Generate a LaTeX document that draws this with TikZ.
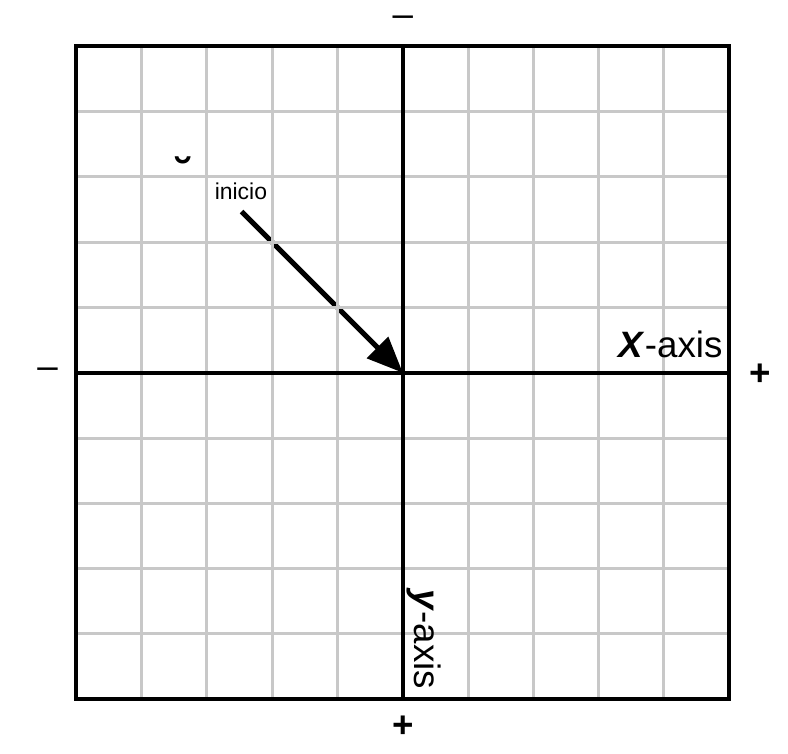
\documentclass[tikz,border=0pt]{standalone}
\usepackage{fontspec}
\setmainfont{Liberation Sans}
\usepackage{tikz}
\usepackage{xcolor}
\usetikzlibrary{arrows.meta, positioning}

\definecolor{gridgray}{RGB}{200,200,200}

\begin{document}
\begin{tikzpicture}[font=\fontsize{16}{16}\selectfont]

\useasboundingbox (-6.17,-5.83) rectangle (5.90,5.71);

% arrow from start point to origin
\coordinate (origin) at (0,0);
\coordinate (start) at (-2.47,2.47);
\draw[line width=2.2pt, -{Triangle[length=0.55cm, width=0.45cm]}] (start) -- (origin);

% grid
\draw[gridgray, line width=1.3pt] (-5,-5) grid (5,5);

% axes and border
\draw[line width=1.7pt] (-5,0) -- (5,0);
\draw[line width=1.7pt] (0,-5) -- (0,5);
\draw[line width=1.8pt] (-5,-5) rectangle (5,5);

\node[anchor=base east] (xlabel) at (5.02,0.24) {\textbf{\textit{X}}-axis};
\node[anchor=base west, rotate=-90] (ylabel) at (0.18,-3.2) {\textbf{\textit{y}}-axis};

\node (topsign) at (0,5.38) {–};
\node (botsign) at (0,-5.42) {\textbf{+}};
\node (leftsign) at (-5.44,0) {–};
\node (rightsign) at (5.47,-0.03) {\textbf{+}};

\node[font=\fontsize{10}{10}\selectfont] (inicio) at (-2.48,2.78) {inicio};
\node[font=\fontsize{20}{20}\selectfont\bfseries] (mark) at (-3.35,3.05) {˘};

\end{tikzpicture}
\end{document}
